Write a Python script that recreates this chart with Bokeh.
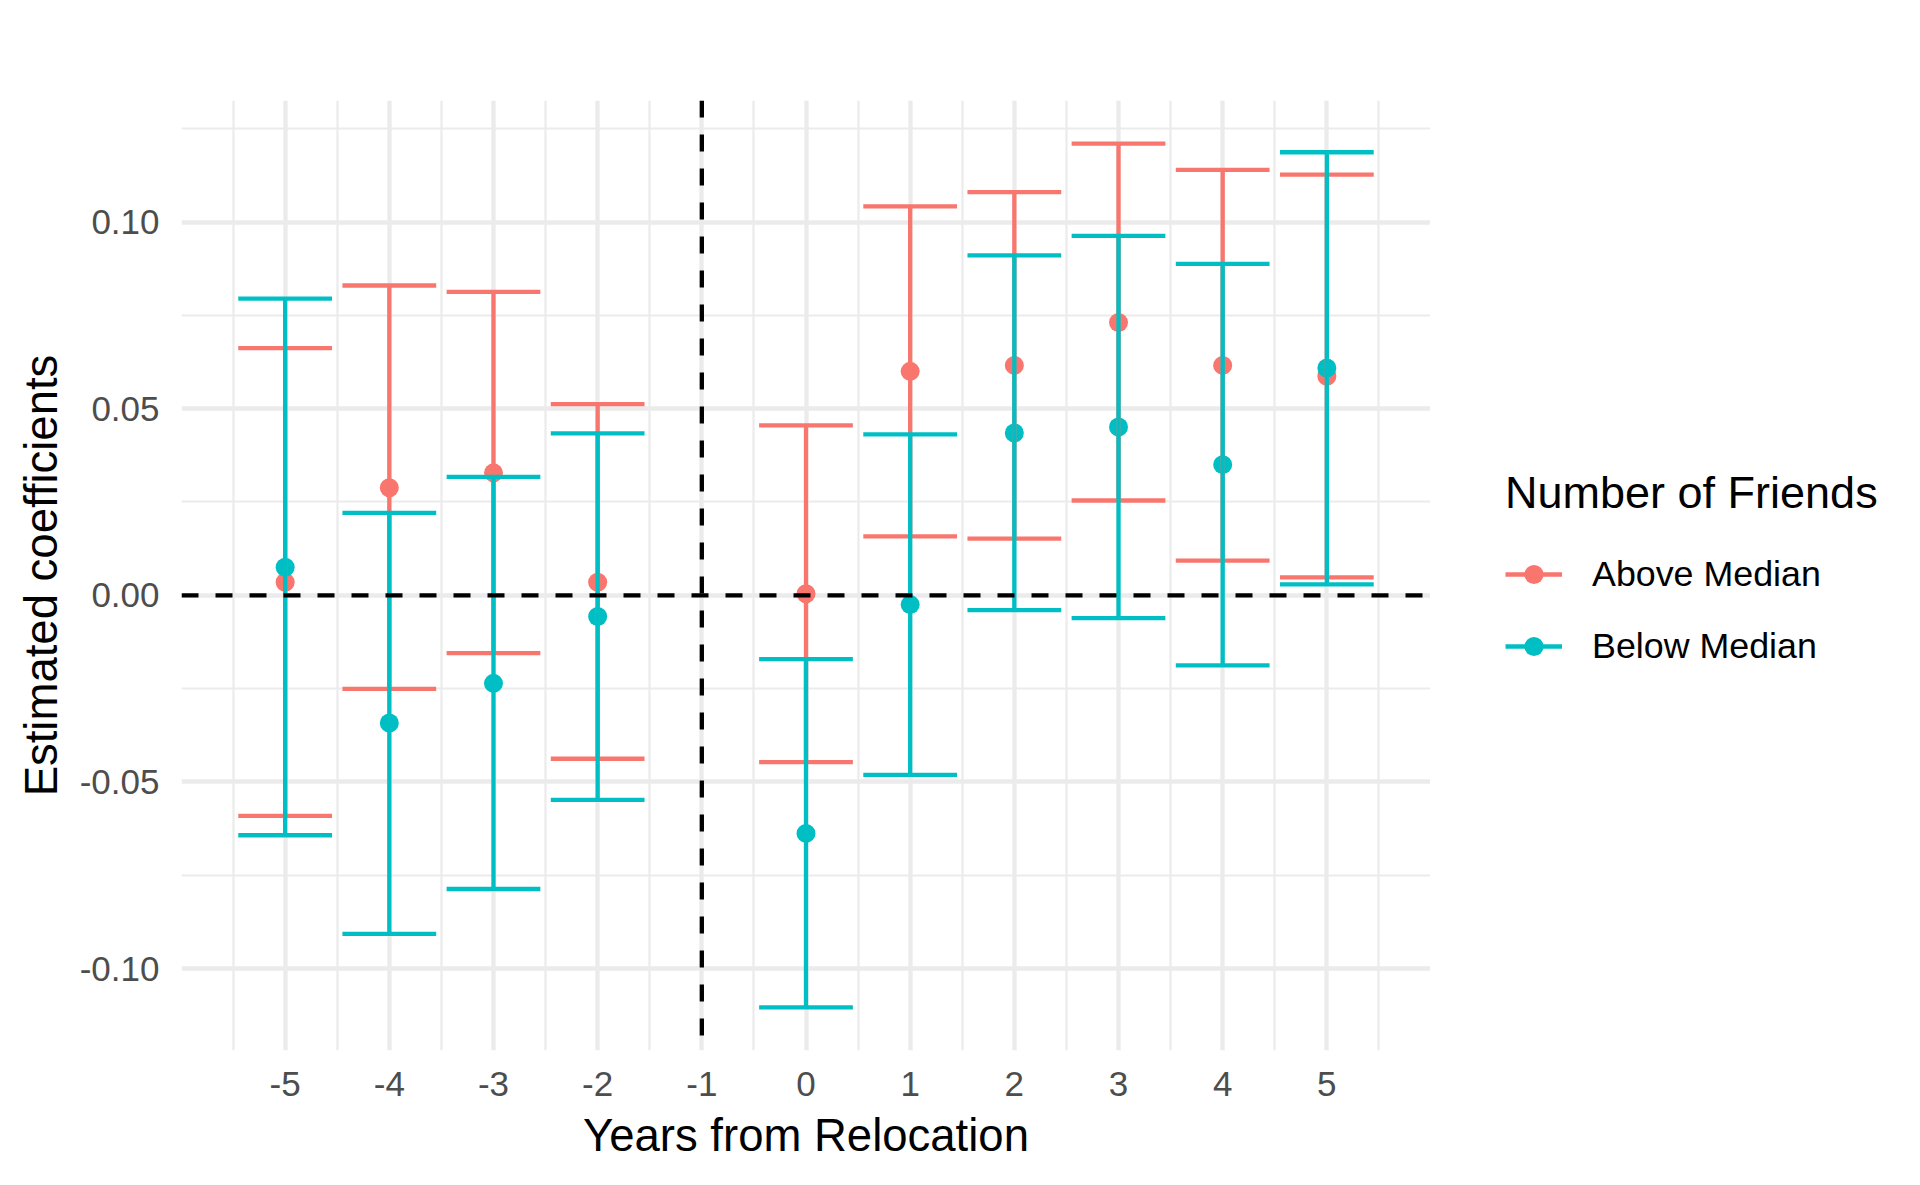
from bokeh.plotting import figure
from bokeh.layouts import row
from bokeh.models import (Range1d, FixedTicker, CustomJSTickFormatter, Span, Legend,
                          LegendItem, ColumnDataSource)
from bokeh.embed import file_html
from bokeh.resources import INLINE

# ---- data ----
years = [-5, -4, -3, -2, 0, 1, 2, 3, 4, 5]
above_est = [0.0035, 0.0288, 0.0328, 0.0035, 0.0004, 0.0600, 0.0616, 0.0731, 0.0616, 0.0587]
above_lo = [-0.0591, -0.0251, -0.0155, -0.0438, -0.0447, 0.0158, 0.0152, 0.0254, 0.0093, 0.0048]
above_hi = [0.0662, 0.0830, 0.0813, 0.0512, 0.0455, 0.1042, 0.1080, 0.1210, 0.1140, 0.1127]
below_est = [0.0075, -0.0342, -0.0236, -0.0057, -0.0638, -0.0025, 0.0435, 0.0451, 0.0350, 0.0609]
below_lo = [-0.0643, -0.0907, -0.0787, -0.0548, -0.1104, -0.0481, -0.0040, -0.0061, -0.0188, 0.0029]
below_hi = [0.0795, 0.0221, 0.0317, 0.0434, -0.0171, 0.0431, 0.0911, 0.0963, 0.0888, 0.1187]

x_ticks = [-5, -4, -3, -2, -1, 0, 1, 2, 3, 4, 5]
y_ticks = [-0.10, -0.05, 0.0, 0.05, 0.10]
group_labels = ["Above Median", "Below Median"]
legend_title = "Number of Friends"
x_title = "Years from Relocation"
y_title = "Estimated coefficients"
event_year = -1

# ---- styling ----
FONT = "Liberation Sans"
RED = "#F8766D"
CYAN = "#00BFC4"
GRID = "#EBEBEB"
LW = 4.3
CAP = 0.9
PT = 19

# ranges with ggplot-like 5% expansion
lo_all = min(above_lo + below_lo)
hi_all = max(above_hi + below_hi)
ypad = 0.05 * (hi_all - lo_all)
xmin_d = min(years) - CAP / 2
xmax_d = max(years) + CAP / 2
xpad = 0.05 * (xmax_d - xmin_d)

p = figure(width=1430, height=1185, output_backend="svg", toolbar_location=None,
           x_range=Range1d(xmin_d - xpad, xmax_d + xpad),
           y_range=Range1d(lo_all - ypad, hi_all + ypad),
           min_border_left=181, min_border_right=0, min_border_top=100,
           min_border_bottom=135)
p.outline_line_color = None
p.background_fill_color = "white"
p.border_fill_color = "white"

# ticks / grid
p.xaxis.ticker = FixedTicker(ticks=x_ticks, minor_ticks=[t + 0.5 for t in [-6] + x_ticks])
minor_y = [y + 0.025 for y in [-0.15] + y_ticks]
p.yaxis.ticker = FixedTicker(ticks=y_ticks, minor_ticks=minor_y)
p.yaxis.formatter = CustomJSTickFormatter(code="return tick.toFixed(2)")
p.xaxis.formatter = CustomJSTickFormatter(code="return tick.toFixed(0)")

for g in (p.xgrid, p.ygrid):
    g.grid_line_color = GRID
    g.grid_line_width = LW
    g.minor_grid_line_color = GRID
    g.minor_grid_line_width = 2.2

for ax in (p.xaxis, p.yaxis):
    ax.axis_line_color = None
    ax.major_tick_line_color = None
    ax.minor_tick_line_color = None
    ax.major_label_text_font = FONT
    ax.major_label_text_font_size = "35px"
    ax.major_label_text_color = "#4D4D4D"
    ax.axis_label_text_font = FONT
    ax.axis_label_text_font_size = "45.5px"
    ax.axis_label_text_font_style = "normal"
    ax.axis_label_text_color = "black"

p.xaxis.axis_label = x_title
p.yaxis.axis_label = y_title
p.xaxis.major_label_standoff = 15
p.yaxis.major_label_standoff = 16
p.xaxis.axis_label_standoff = 11
p.yaxis.axis_label_standoff = 10


def bar_source(lo, hi):
    x0, x1, y0, y1 = [], [], [], []
    for x, l, h in zip(years, lo, hi):
        x0 += [x, x - CAP / 2, x - CAP / 2]
        x1 += [x, x + CAP / 2, x + CAP / 2]
        y0 += [l, h, l]
        y1 += [h, h, l]
    return ColumnDataSource(dict(x0=x0, x1=x1, y0=y0, y1=y1))


p.scatter(years, above_est, size=PT, color=RED, line_color=None)
p.scatter(years, below_est, size=PT, color=CYAN, line_color=None)
p.segment("x0", "y0", "x1", "y1", source=bar_source(above_lo, above_hi),
          line_color=RED, line_width=LW)
p.segment("x0", "y0", "x1", "y1", source=bar_source(below_lo, below_hi),
          line_color=CYAN, line_width=LW)

p.add_layout(Span(location=0, dimension="width", line_color="black", line_width=LW,
                  line_dash="17 17"))
p.add_layout(Span(location=event_year, dimension="height", line_color="black",
                  line_width=LW, line_dash="17 17"))

# ---- legend panel (a separate, axis-free figure to the right) ----
q = figure(width=490, height=1185, output_backend="svg", toolbar_location=None,
           x_range=Range1d(0, 1), y_range=Range1d(0, 1),
           x_axis_location=None, y_axis_location=None,
           min_border=0, min_border_left=0, min_border_right=0,
           min_border_top=0, min_border_bottom=0)
q.outline_line_color = None
q.grid.visible = False
q.background_fill_color = "white"
q.border_fill_color = "white"

nan = float("nan")
key_src = ColumnDataSource(dict(x0=[nan], y0=[nan], x1=[nan], y1=[nan]))
ka_line = q.segment("x0", "y0", "x1", "y1", source=key_src, line_color=RED, line_width=LW)
ka_pt = q.scatter("x0", "y0", source=key_src, size=PT, color=RED, line_color=None)
kb_line = q.segment("x0", "y0", "x1", "y1", source=key_src, line_color=CYAN, line_width=LW)
kb_pt = q.scatter("x0", "y0", source=key_src, size=PT, color=CYAN, line_color=None)

legend = Legend(items=[LegendItem(label=group_labels[0], renderers=[ka_line, ka_pt]),
                       LegendItem(label=group_labels[1], renderers=[kb_line, kb_pt])],
                title=legend_title, location=(75, 380))
legend.title_text_font = FONT
legend.title_text_font_size = "45px"
legend.title_text_font_style = "normal"
legend.title_text_color = "black"
legend.title_standoff = 31
legend.label_text_font = FONT
legend.label_text_font_size = "35.8px"
legend.label_text_color = "black"
legend.glyph_width = 57
legend.glyph_height = 48
legend.label_height = 48
legend.label_standoff = 30
legend.spacing = 24
legend.padding = 0
legend.margin = 0
legend.border_line_color = None
legend.background_fill_alpha = 0
q.add_layout(legend)

open("out.html", "w").write(file_html(row(p, q), INLINE))
